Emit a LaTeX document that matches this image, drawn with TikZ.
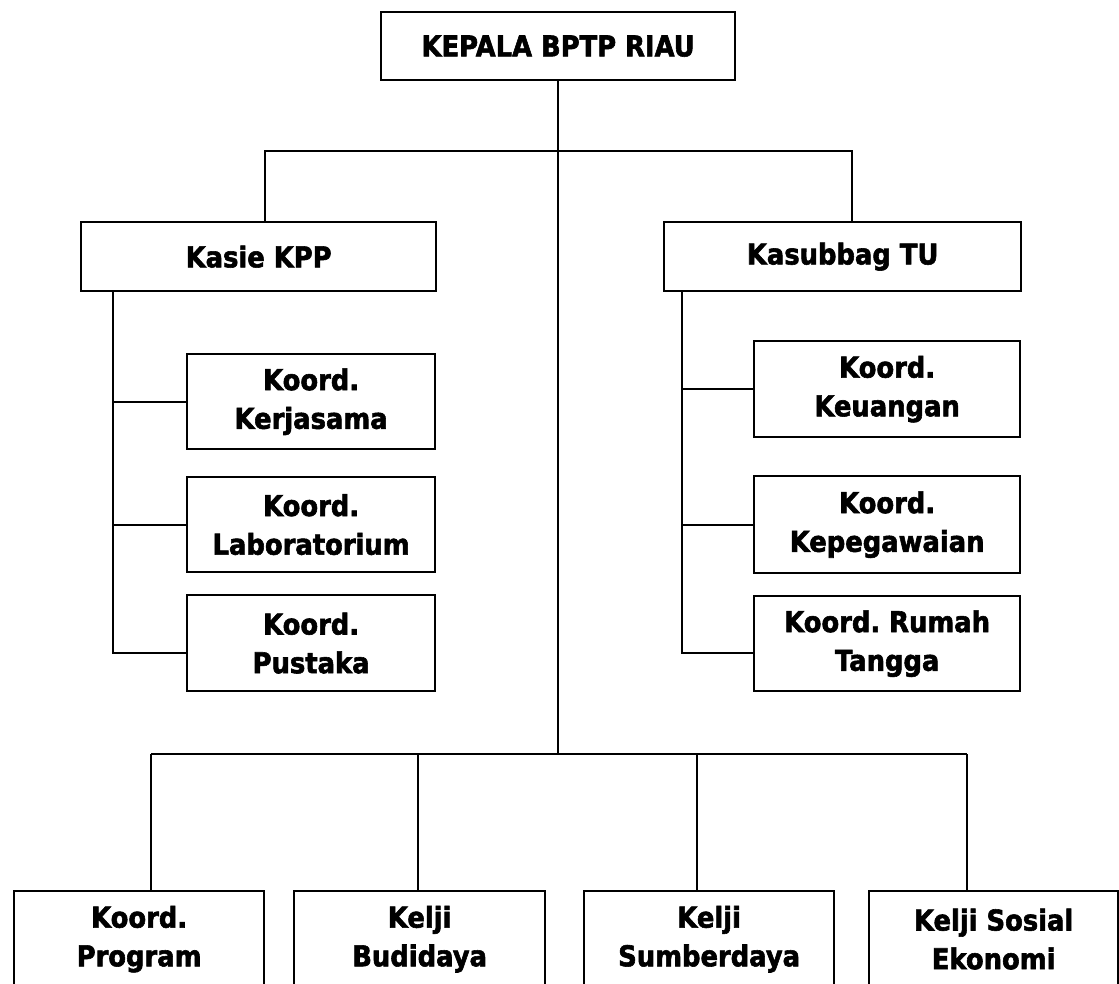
\documentclass[tikz,border=0pt]{standalone}
\usepackage{fontspec}
\setmainfont{DejaVu Sans}[FakeStretch=0.9, BoldFeatures={FakeBold=2}]
\frenchspacing
\def\px{0.75pt}
\tikzset{
  box/.style={draw, line width=1.7pt, rectangle, anchor=north west, inner sep=0pt,
    align=center, font=\bfseries\fontsize{21.5}{29}\selectfont},
  link/.style={line width=1.5pt},
}
\begin{document}
\begin{tikzpicture}[x=0.75pt, y=-0.75pt]
\path[use as bounding box] (0,0) rectangle (1119,983);
\clip (0,0) rectangle (1119,983);
% top
\node[box, minimum width=354*\px, minimum height=68*\px] (kepala) at (380,11) {KEPALA BPTP RIAU};
% second level
\node[box, minimum width=355*\px, minimum height=69*\px] (kasie) at (80,221) {Kasie KPP};
\node[box, minimum width=357*\px, minimum height=69*\px] (kasub) at (663,221) {Kasubbag TU};
% left group
\node[box, minimum width=248*\px, minimum height=95*\px] (kerja) at (186,353) {Koord.\\Kerjasama};
\node[box, minimum width=248*\px, minimum height=95*\px] (lab) at (186,476) {Koord.\\Laboratorium};
\node[box, minimum width=248*\px, minimum height=96*\px] (pust) at (186,594) {Koord.\\Pustaka};
% right group
\node[box, minimum width=266*\px, minimum height=96*\px] (keu) at (753,340) {Koord.\\Keuangan};
\node[box, minimum width=266*\px, minimum height=97*\px] (peg) at (753,475) {Koord.\\Kepegawaian};
\node[box, minimum width=266*\px, minimum height=95*\px] (rt) at (753,595) {Koord. Rumah\\Tangga};
% bottom row
\node[box, minimum width=250*\px, minimum height=96*\px] (prog) at (13,890) {Koord.\\Program};
\node[box, minimum width=251*\px, minimum height=96*\px] (bud) at (293,890) {Kelji\\Budidaya};
\node[box, minimum width=250*\px, minimum height=96*\px] (sum) at (583,890) {Kelji\\Sumberdaya};
\node[box, minimum width=249*\px, minimum height=96*\px] (sos) at (868,890) {Kelji Sosial\\Ekonomi};
% junction coordinates
\coordinate (jL) at (265,151);
\coordinate (jR) at (852,151);
\coordinate (bb) at (558,754);
\coordinate (b1) at (151,754);
\coordinate (b2) at (418,754);
\coordinate (b3) at (697,754);
\coordinate (b4) at (967,754);
\coordinate (lx) at (113,653);
\coordinate (rx) at (682,653);
% connectors
\draw[link] (kepala.south) -- (kepala.south |- bb);
\draw[link] (jL |- kasie.north) -- (jL) -- (jR) -- (jR |- kasub.north);
\draw[link] (b1) -- (b4);
\draw[link] (b1) -- (b1 |- prog.north);
\draw[link] (b2) -- (b2 |- bud.north);
\draw[link] (b3) -- (b3 |- sum.north);
\draw[link] (b4) -- (b4 |- sos.north);
\draw[link] (lx |- kasie.south) -- (lx) -- (lx -| pust.west);
\draw[link] (lx |- kerja.west) -- (kerja.west);
\draw[link] (lx |- lab.west) -- (lab.west);
\draw[link] (rx |- kasub.south) -- (rx) -- (rx -| rt.west);
\draw[link] (rx |- keu.west) -- (keu.west);
\draw[link] (rx |- peg.west) -- (peg.west);
\end{tikzpicture}
\end{document}
